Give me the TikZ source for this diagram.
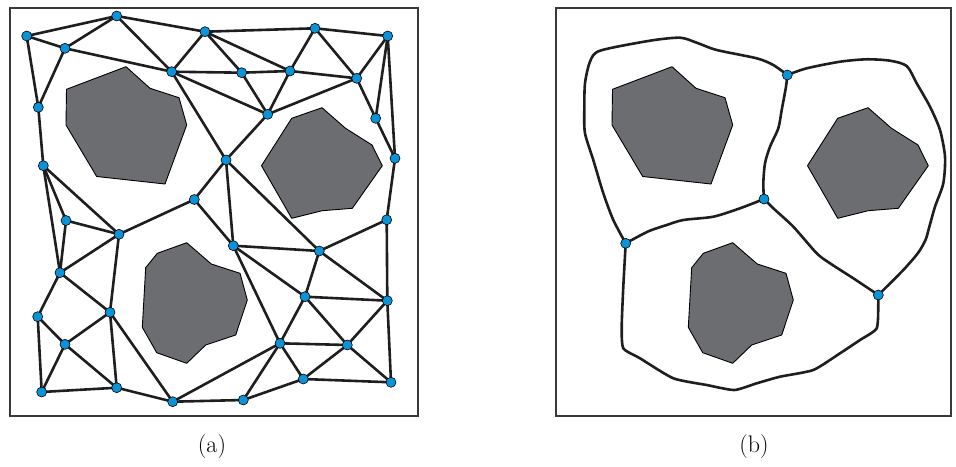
\documentclass[tikz,border=0pt]{standalone}
\usetikzlibrary{backgrounds}
\definecolor{vblue}{HTML}{0A93D8}
\definecolor{obgray}{HTML}{6C6D70}
\definecolor{frame}{HTML}{3A3A3A}
\definecolor{edge}{HTML}{1E1E1E}
\tikzset{
  vtx/.style={circle,draw=black,line width=0.6pt,fill=vblue,inner sep=0pt,minimum size=10pt},
  edg/.style={draw=edge,line width=2.6pt,line cap=round,line join=round},
  obst/.style={draw=black,line width=0.9pt,fill=obgray,line join=round},
  frm/.style={draw=frame,line width=1.4pt},
  crv/.style={draw=edge,line width=2.6pt,line cap=round,line join=round},
  lbl/.style={font=\fontsize{24}{28}\selectfont,inner sep=0pt}
}
\begin{document}
\begin{tikzpicture}[x=1pt,y=-1pt]
\useasboundingbox (0,0) rectangle (956,466);
% frames
\draw[frm] (10,8) rectangle (418,416);
\draw[frm] (556,8) rectangle (951,416);
% obstacles (a)
\draw[obst] (126,66.7) -- (150,88.3) -- (179,97.7) -- (186.7,125) -- (165,184) -- (96.7,176.5) -- (66,125) -- (66.5,89.3) -- cycle;
\draw[obst] (291.7,118.3) -- (322,107.7) -- (345.5,128.3) -- (372,145) -- (382.3,165.7) -- (352.3,208.3) -- (322.3,210.7) -- (291.7,218.3) -- (261.5,165.7) -- cycle;
\draw[obst] (186.7,242.7) -- (211.3,264) -- (240,273.3) -- (247.3,300) -- (235.7,335) -- (205.7,345) -- (186.7,363.3) -- (156.7,352.7) -- (142.3,327.3) -- (145.7,267.7) -- (157.3,253.3) -- cycle;
% obstacles (b)
\begin{scope}[xshift=546pt]
\draw[obst] (126,66.7) -- (150,88.3) -- (179,97.7) -- (186.7,125) -- (165,184) -- (96.7,176.5) -- (66,125) -- (66.5,89.3) -- cycle;
\draw[obst] (291.7,118.3) -- (322,107.7) -- (345.5,128.3) -- (372,145) -- (382.3,165.7) -- (352.3,208.3) -- (322.3,210.7) -- (291.7,218.3) -- (261.5,165.7) -- cycle;
\draw[obst] (186.7,242.7) -- (211.3,264) -- (240,273.3) -- (247.3,300) -- (235.7,335) -- (205.7,345) -- (186.7,363.3) -- (156.7,352.7) -- (142.3,327.3) -- (145.7,267.7) -- (157.3,253.3) -- cycle;
\end{scope}
% vertices (a)
\node[vtx] (n1) at (26.7,36) {};
\node[vtx] (n2) at (116.7,16) {};
\node[vtx] (n3) at (65,48.3) {};
\node[vtx] (n4) at (205,31.7) {};
\node[vtx] (n5) at (171.7,71.7) {};
\node[vtx] (n6) at (38.3,107.3) {};
\node[vtx] (n7) at (43.3,165.7) {};
\node[vtx] (n8) at (194.3,199.5) {};
\node[vtx] (n9) at (66,220.5) {};
\node[vtx] (n10) at (315,28.3) {};
\node[vtx] (n11) at (387.7,36) {};
\node[vtx] (n12) at (241.7,72.7) {};
\node[vtx] (n13) at (290,71) {};
\node[vtx] (n14) at (356.7,78.3) {};
\node[vtx] (n15) at (267.7,114.3) {};
\node[vtx] (n16) at (375.7,118.3) {};
\node[vtx] (n17) at (226,160) {};
\node[vtx] (n18) at (395,158.3) {};
\node[vtx] (n19) at (386.7,219.8) {};
\node[vtx] (n20) at (119,234.3) {};
\node[vtx] (n21) at (60,272.7) {};
\node[vtx] (n22) at (110,312.3) {};
\node[vtx] (n23) at (37.7,316.7) {};
\node[vtx] (n24) at (65,344.3) {};
\node[vtx] (n25) at (41.7,392) {};
\node[vtx] (n26) at (116.7,387.7) {};
\node[vtx] (n27) at (172.7,401.7) {};
\node[vtx] (n28) at (233.3,245.7) {};
\node[vtx] (n29) at (319.3,251) {};
\node[vtx] (n30) at (305,296.7) {};
\node[vtx] (n31) at (387.3,300.7) {};
\node[vtx] (n32) at (280,343.3) {};
\node[vtx] (n33) at (347.3,345) {};
\node[vtx] (n34) at (303.3,379) {};
\node[vtx] (n35) at (391,382.3) {};
\node[vtx] (n36) at (243.3,400) {};
% vertices (b)
\node[vtx] (m1) at (787.3,75) {};
\node[vtx] (m2) at (764,199) {};
\node[vtx] (m3) at (625.7,243.3) {};
\node[vtx] (m4) at (878.3,295) {};
% labels
\node[lbl] (la) at (212,447) {(a)};
\node[lbl] (lb) at (754,447) {(b)};
\begin{pgfonlayer}{background}
\foreach \a/\b in {n1/n2,n1/n3,n1/n6,n2/n3,n3/n5,n3/n6,n2/n5,n2/n4,n4/n5,n5/n12,n5/n15,n5/n17,n6/n7,n7/n9,n7/n21,n7/n20,n8/n17,n8/n20,n8/n28,
n4/n10,n4/n12,n4/n13,n12/n13,n12/n15,n13/n15,n10/n13,n13/n14,n10/n14,n10/n11,n11/n14,n11/n16,n11/n18,n14/n16,n16/n18,n14/n15,n15/n17,n17/n28,n17/n29,n18/n19,
n9/n20,n9/n21,n20/n21,n20/n22,n21/n22,n21/n23,n23/n24,n23/n25,n22/n24,n24/n25,n24/n26,n22/n26,n22/n27,n25/n26,n26/n27,n27/n36,n27/n32,
n28/n29,n28/n30,n28/n32,n19/n29,n29/n30,n29/n31,n19/n31,n30/n31,n30/n32,n30/n33,n31/n33,n31/n35,n32/n33,n32/n34,n32/n36,n33/n34,n33/n35,n34/n35,n34/n36}
  {\draw[edg] (\a.center) -- (\b.center);}
% curves (b)
\draw[crv] plot[smooth,tension=0.45] coordinates {(m1.center) (773.3,65) (756.7,58.3) (716.7,50) (696.7,42.7) (680,37.7) (650,40.7) (600,50.7) (590,61.7) (585,83.3) (584.3,110) (585,133.3) (593.3,160) (603.3,193.3) (613.3,220) (m3.center)};
\draw[crv] plot[smooth,tension=0.45] coordinates {(m1.center) (806.7,68.3) (840,61.7) (866.7,59.3) (890,60.7) (906.7,66) (916.7,83.3) (930,106.7) (940,130) (945,156.7) (943.3,183.3) (935,206.7) (929,228) (925.5,240) (918,253) (903.3,270) (m4.center)};
\draw[crv] plot[smooth,tension=0.45] coordinates {(m1.center) (786,86.7) (781.7,110) (778.3,128.3) (770,146.7) (765,163.3) (763.3,183.3) (m2.center)};
\draw[crv] plot[smooth,tension=0.45] coordinates {(m2.center) (740,208.3) (713.3,216.7) (683.3,220) (666.7,225) (648,231.5) (m3.center)};
\draw[crv] plot[smooth,tension=0.45] coordinates {(m2.center) (773.3,208.3) (793.3,226.7) (816.7,253.3) (830,263.3) (853.3,278.3) (m4.center)};
\draw[crv] plot[smooth,tension=0.35] coordinates {(m3.center) (623.3,286.7) (621.7,326.7) (623.3,348.3) (640,358.3) (673.3,378.3) (706.7,385) (734.3,390) (756.7,383.3) (780,376.7) (813.3,370) (840,353.3) (860,340) (876.7,328.3) (878.3,303.3) (m4.center)};
\end{pgfonlayer}
\end{tikzpicture}
\end{document}
